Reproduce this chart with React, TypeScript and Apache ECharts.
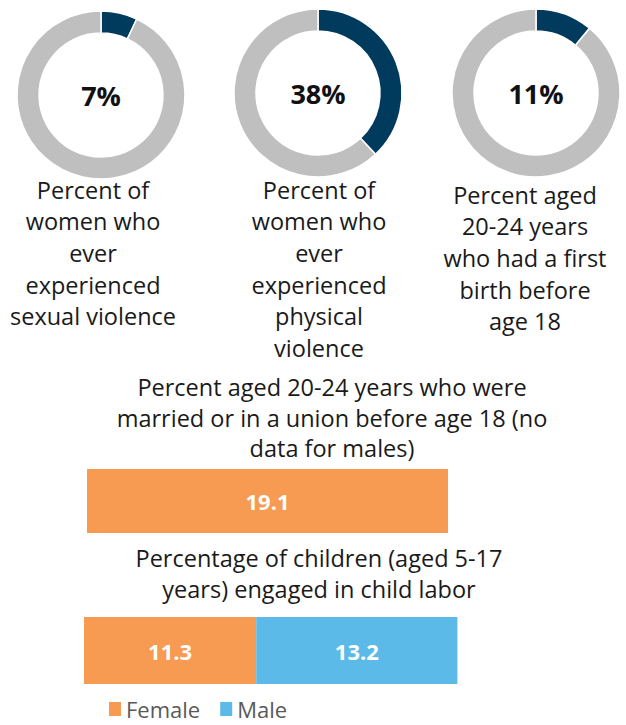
import React, { useEffect, useRef } from "react";
import * as echarts from "echarts";

// Donut values (percent)
const donutValues = [7, 38, 11];
const donutLabels = [
  "Percent of\nwomen who\never\nexperienced\nsexual violence",
  "Percent of\nwomen who\never\nexperienced\nphysical\nviolence",
  "Percent aged\n20-24 years\nwho had a first\nbirth before\nage 18",
];

// Child marriage bar
const marriageTitle = "Percent aged 20-24 years who were\nmarried or in a union before age 18 (no\ndata for males)";
const marriageFemale = [19.1];

// Child labor bar
const laborTitle = "Percentage of children (aged 5-17\nyears) engaged in child labor";
const laborFemale = [11.3];
const laborMale = [13.2];

const legendNames = ["Female", "Male"];

const FONT = "'Open Sans', 'Noto Sans', sans-serif";
const DARK = "#003A5D";
const GRAY = "#BFBFBF";
const ORANGE = "#F79A52";
const BLUE = "#5BBAE8";

const donutCenters = [
  [101, 95],
  [318, 93],
  [536, 93],
];
const textPos = [
  [93, 174],
  [319, 174],
  [525, 179],
];

export default function App() {
  const ref = useRef<HTMLDivElement>(null);
  useEffect(() => {
    if (!ref.current) return;
    const chart = echarts.init(ref.current, null, { renderer: "svg" });

    const pieSeries = donutValues.map((v, i) => ({
      type: "pie",
      center: donutCenters[i],
      radius: [62, 84],
      startAngle: 90,
      clockwise: true,
      silent: true,
      emphasis: { disabled: true },
      labelLine: { show: false },
      label: { show: false },
      itemStyle: { borderColor: "#fff", borderWidth: 1.5 },
      data: [
        {
          value: v,
          name: "value",
          itemStyle: { color: DARK },
          label: {
            show: true,
            position: "center",
            formatter: "{c}%",
            fontSize: 27,
            fontWeight: "bold",
            fontFamily: FONT,
            color: "#111",
          },
        },
        { value: 100 - v, name: "rest", itemStyle: { color: GRAY }, label: { show: false } },
      ],
    }));

    const textEls = donutLabels.map((t, i) => ({
      type: "text",
      x: textPos[i][0],
      y: textPos[i][1],
      style: {
        text: t,
        fill: "#1a1a1a",
        fontSize: 23.5,
        fontFamily: FONT,
        align: "center",
        verticalAlign: "top",
        lineHeight: 31.6,
      },
    }));

    const option: any = {
      animation: false,
      legend: {
        data: legendNames,
        left: 104,
        top: 692,
        icon: "rect",
        itemWidth: 12,
        itemHeight: 14,
        itemGap: 20,
        selectedMode: false,
        textStyle: { fontSize: 22, lineHeight: 24, color: "#595959", fontFamily: FONT },
      },
      grid: [
        { left: 87, top: 469, width: 378, height: 64 },
        { left: 84, top: 617, width: 381, height: 67 },
      ],
      xAxis: [
        { type: "value", gridIndex: 0, min: 0, max: 20, show: false },
        { type: "value", gridIndex: 1, min: 0, max: 25, show: false },
      ],
      yAxis: [
        { type: "category", gridIndex: 0, data: ["marriage"], show: false },
        { type: "category", gridIndex: 1, data: ["labor"], show: false },
      ],
      graphic: [
        ...textEls,
        {
          type: "text",
          x: 332,
          y: 372,
          style: {
            text: marriageTitle,
            fill: "#1a1a1a",
            fontSize: 23.5,
            fontFamily: FONT,
            align: "center",
            verticalAlign: "top",
            lineHeight: 30.5,
          },
        },
        {
          type: "text",
          x: 319,
          y: 542,
          style: {
            text: laborTitle,
            fill: "#1a1a1a",
            fontSize: 23.5,
            fontFamily: FONT,
            align: "center",
            verticalAlign: "top",
            lineHeight: 31.5,
          },
        },
      ],
      series: [
        ...pieSeries,
        {
          type: "bar",
          name: "Female",
          xAxisIndex: 0,
          yAxisIndex: 0,
          barWidth: "100%",
          silent: true,
          itemStyle: { color: ORANGE },
          label: {
            show: true,
            position: "inside",
            color: "#fff",
            fontWeight: "bold",
            fontSize: 22,
            fontFamily: FONT,
          },
          data: marriageFemale,
        },
        {
          type: "bar",
          name: "Female",
          xAxisIndex: 1,
          yAxisIndex: 1,
          stack: "labor",
          barWidth: "100%",
          silent: true,
          itemStyle: { color: ORANGE },
          label: {
            show: true,
            position: "inside",
            color: "#fff",
            fontWeight: "bold",
            fontSize: 22,
            fontFamily: FONT,
          },
          data: laborFemale,
        },
        {
          type: "bar",
          name: "Male",
          xAxisIndex: 1,
          yAxisIndex: 1,
          stack: "labor",
          barWidth: "100%",
          silent: true,
          itemStyle: { color: BLUE },
          label: {
            show: true,
            position: "inside",
            color: "#fff",
            fontWeight: "bold",
            fontSize: 22,
            fontFamily: FONT,
          },
          data: laborMale,
        },
      ],
    };
    chart.setOption(option);
    return () => chart.dispose();
  }, []);

  return (
    <div
      ref={ref}
      style={{ position: "absolute", left: 0, top: 0, width: 626, height: 725, background: "#fff" }}
    />
  );
}
